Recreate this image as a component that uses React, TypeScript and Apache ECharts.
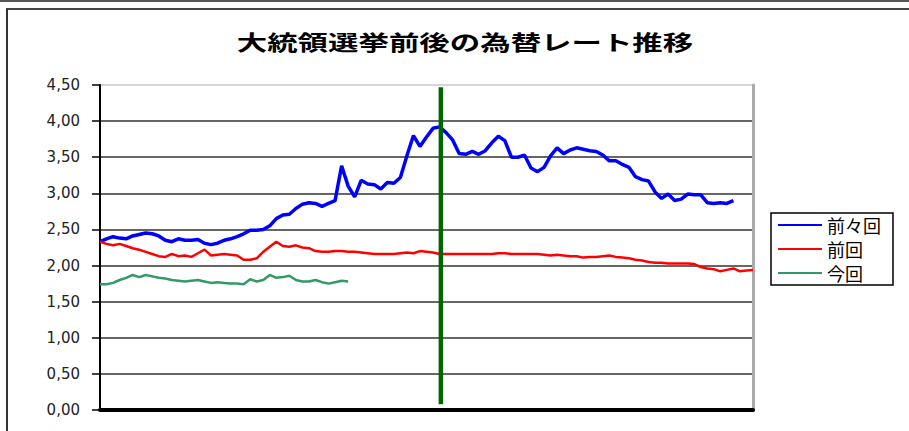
import React, { useEffect, useRef } from "react";
import * as echarts from "echarts";

const TITLE = "大統領選挙前後の為替レート推移";
const seriesNames = ["前々回", "前回", "今回"];
const yTicks = [0, 0.5, 1, 1.5, 2, 2.5, 3, 3.5, 4, 4.5];

// 前々回 (blue)
const beforeLast = [
  2.33, 2.37, 2.4, 2.38, 2.37, 2.41, 2.43, 2.45, 2.44, 2.41,
  2.35, 2.33, 2.37, 2.35, 2.35, 2.36, 2.31, 2.29, 2.31, 2.35,
  2.37, 2.4, 2.44, 2.49, 2.49, 2.5, 2.55, 2.65, 2.7, 2.71,
  2.79, 2.85, 2.87, 2.86, 2.82, 2.86, 2.9, 3.38, 3.1, 2.95,
  3.18, 3.13, 3.12, 3.06, 3.15, 3.14, 3.22, 3.52, 3.8, 3.65,
  3.78, 3.9, 3.92, 3.84, 3.74, 3.55, 3.54, 3.58, 3.54, 3.59,
  3.7, 3.79, 3.73, 3.5, 3.5, 3.53, 3.35, 3.3, 3.36, 3.52,
  3.63, 3.55, 3.6, 3.63, 3.61, 3.59, 3.58, 3.53, 3.45, 3.45,
  3.4, 3.36, 3.23, 3.19, 3.17, 3.02, 2.93, 2.99, 2.9, 2.92,
  2.99, 2.98, 2.98, 2.87, 2.86, 2.87, 2.86, 2.9,
];

// 前回 (red)
const last = [
  2.33, 2.3, 2.28, 2.3, 2.27, 2.24, 2.22, 2.19, 2.16, 2.13,
  2.12, 2.16, 2.13, 2.14, 2.12, 2.17, 2.22, 2.14, 2.15, 2.16,
  2.15, 2.14, 2.08, 2.08, 2.1, 2.19, 2.26, 2.33, 2.27, 2.26,
  2.28, 2.25, 2.24, 2.2, 2.19, 2.19, 2.2, 2.2, 2.19, 2.19,
  2.18, 2.17, 2.16, 2.16, 2.16, 2.16, 2.17, 2.18, 2.17, 2.2,
  2.19, 2.18, 2.16, 2.16, 2.16, 2.16, 2.16, 2.16, 2.16, 2.16,
  2.16, 2.17, 2.17, 2.16, 2.16, 2.16, 2.16, 2.16, 2.15, 2.14,
  2.15, 2.14, 2.13, 2.13, 2.11, 2.12, 2.12, 2.13, 2.14, 2.12,
  2.11, 2.1, 2.08, 2.07, 2.05, 2.04, 2.04, 2.03, 2.03, 2.03,
  2.03, 2.02, 1.98, 1.96, 1.95, 1.92, 1.94, 1.96, 1.92, 1.93,
  1.94,
];

// 今回 (green)
const current = [
  1.74, 1.74, 1.76, 1.8, 1.83, 1.87, 1.84, 1.87, 1.85, 1.83,
  1.82, 1.8, 1.79, 1.78, 1.79, 1.8, 1.78, 1.76, 1.77, 1.76,
  1.75, 1.75, 1.74, 1.81, 1.78, 1.8, 1.87, 1.83, 1.84, 1.86,
  1.8, 1.78, 1.78, 1.8, 1.77, 1.75, 1.77, 1.79, 1.78,
];

const dayCount = 100;
const electionDay = 52.2;
const electionSpan = [0.08, 4.47];

const toPairs = (arr: number[]) => arr.map((v, i) => [i, v]);
const fmt = (v: number) => v.toFixed(2).replace(".", ",");

export default function App() {
  const ref = useRef<HTMLDivElement>(null);
  useEffect(() => {
    if (!ref.current) return;
    const chart = echarts.init(ref.current, undefined, { renderer: "svg" });
    const gridColors = yTicks.map((t, i) => (i === yTicks.length - 1 ? "#c8c8c8" : "#333333"));
    chart.setOption({
      animation: false,
      backgroundColor: "#ffffff",
      graphic: [
        { type: "line", shape: { x1: 0, y1: 1, x2: 909, y2: 1 }, style: { stroke: "#555", lineWidth: 2 } },
        { type: "line", shape: { x1: 6, y1: 9, x2: 909, y2: 9 }, style: { stroke: "#444", lineWidth: 2 } },
        { type: "line", shape: { x1: 7, y1: 9, x2: 7, y2: 431 }, style: { stroke: "#333", lineWidth: 2 } },
        {
          type: "text",
          x: 465,
          y: 41,
          scaleX: 1.45,
          style: {
            text: TITLE,
            font: 'bold 21px "Noto Sans CJK JP"',
            fill: "#000",
            textAlign: "center",
            textVerticalAlign: "middle",
          },
        },
      ],
      grid: { left: 100, right: 156, top: 85, bottom: 21, containLabel: false },
      legend: {
        data: seriesNames,
        orient: "vertical",
        left: 771,
        top: 213,
        padding: [3, 12, 3, 7],
        itemGap: 6,
        itemWidth: 44,
        itemHeight: 2,
        icon: "rect",
        borderColor: "#000",
        borderWidth: 1.5,
        borderRadius: 0,
        textStyle: {
          fontSize: 18,
          lineHeight: 17,
          color: "#000",
          fontFamily: '"Noto Sans CJK JP"',
        },
      },
      xAxis: [
        {
          type: "value",
          min: 0,
          max: dayCount,
          position: "bottom",
          axisLine: { show: true, onZero: false, lineStyle: { color: "#000", width: 4 } },
          axisTick: { show: false },
          axisLabel: { show: false },
          splitLine: { show: false },
        },
      ],
      yAxis: [
        {
          type: "value",
          min: 0,
          max: 4.5,
          interval: 0.5,
          position: "left",
          axisLine: { show: true, lineStyle: { color: "#000", width: 2 } },
          axisTick: { show: true, length: 8, lineStyle: { color: "#000", width: 1.5 } },
          axisLabel: {
            formatter: (v: number) => fmt(v),
            margin: 20,
            fontSize: 15,
            color: "#222",
            fontFamily: '"DejaVu Sans"',
          },
          splitLine: { show: true, lineStyle: { color: gridColors, width: 1.5 } },
        },
        {
          type: "value",
          min: 0,
          max: 4.5,
          interval: 0.5,
          position: "right",
          axisLine: { show: true, lineStyle: { color: "#aaaaaa", width: 3 } },
          axisTick: { show: false },
          axisLabel: { show: false },
          splitLine: { show: false },
        },
      ],
      series: [
        {
          name: seriesNames[0],
          type: "line",
          data: toPairs(beforeLast),
          symbol: "none",
          lineStyle: { color: "#0000ff", width: 3.5 },
          itemStyle: { color: "#0000ff" },
          z: 3,
        },
        {
          name: seriesNames[1],
          type: "line",
          data: toPairs(last),
          symbol: "none",
          lineStyle: { color: "#ff0000", width: 2.5 },
          itemStyle: { color: "#ff0000" },
          z: 3,
        },
        {
          name: seriesNames[2],
          type: "line",
          data: toPairs(current),
          symbol: "none",
          lineStyle: { color: "#339966", width: 2.5 },
          itemStyle: { color: "#339966" },
          z: 3,
        },
        {
          name: "election",
          type: "line",
          data: electionSpan.map((v) => [electionDay, v]),
          symbol: "none",
          lineStyle: { color: "#006600", width: 4.5 },
          itemStyle: { color: "#006600" },
          z: 4,
        },
      ],
    });
    return () => chart.dispose();
  }, []);
  return (
    <div
      ref={ref}
      style={{ position: "fixed", left: 0, top: 0, width: 909, height: 431, background: "#fff" }}
    />
  );
}
